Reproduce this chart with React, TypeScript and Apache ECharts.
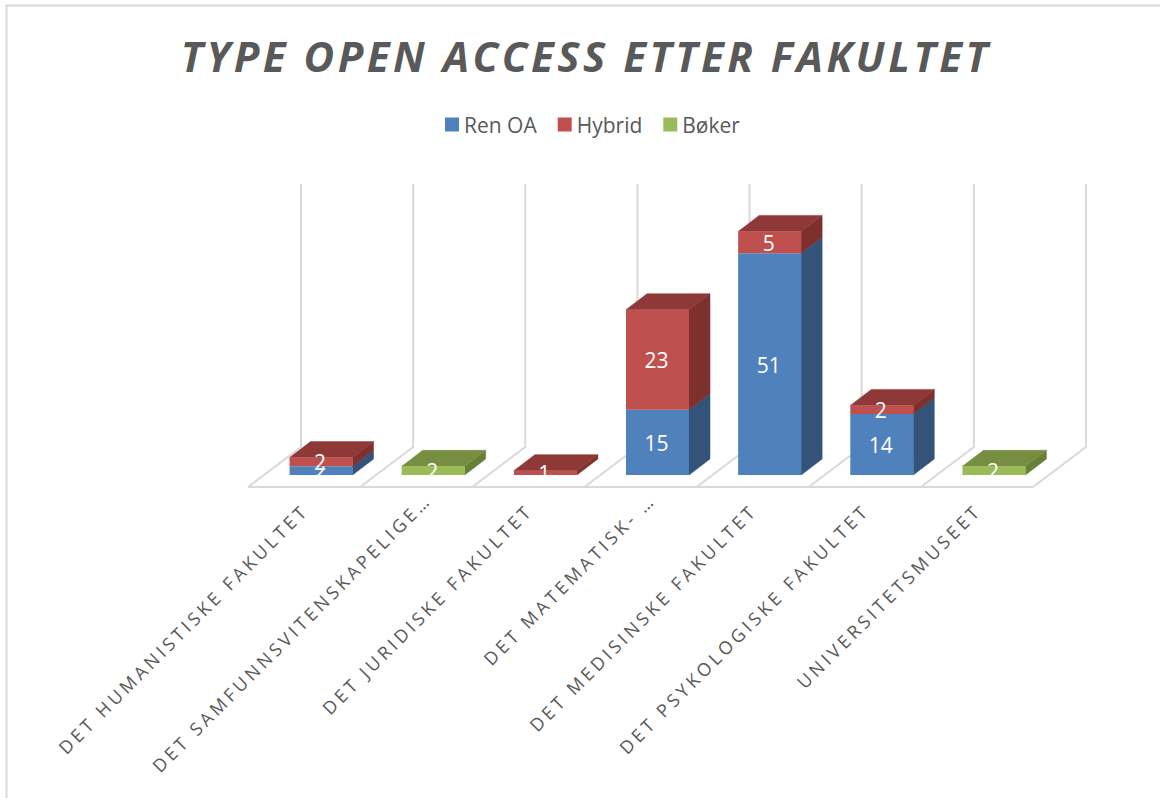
import React, { useEffect, useRef } from "react";
import * as echarts from "echarts";

const categories = [
  "DET HUMANISTISKE FAKULTET",
  "DET SAMFUNNSVITENSKAPELIGE…",
  "DET JURIDISKE FAKULTET",
  "DET MATEMATISK- …",
  "DET MEDISINSKE FAKULTET",
  "DET PSYKOLOGISKE FAKULTET",
  "UNIVERSITETSMUSEET",
];
const renOA = [2, 0, 0, 15, 51, 14, 0];
const hybrid = [2, 0, 1, 23, 5, 2, 0];
const boker = [0, 2, 0, 0, 0, 0, 2];
const titleText = "TYPE OPEN ACCESS ETTER FAKULTET";
const FONT = "'Open Sans', sans-serif";

const stackSeries = [
  { name: "Ren OA", values: renOA, front: "#4F81BD", top: "#3F6797", side: "#335379" },
  { name: "Hybrid", values: hybrid, front: "#C0504D", top: "#8E3937", side: "#7D302E" },
  { name: "Bøker", values: boker, front: "#9BBB59", top: "#758E42", side: "#66803A" },
];

const BAR_W = 63;
const DX = 21;
const DY = 16;

function poly(points: number[][], fill: string) {
  return { type: "polygon", shape: { points }, style: { fill, stroke: fill, lineWidth: 0.5 }, silent: true };
}

function floorRender(params: any, api: any) {
  const i = api.value(0);
  const c = api.coord([i, 0]);
  const band = api.size([1, 0])[0];
  const start = c[0] - band / 2;
  const y0 = c[1];
  const stroke = { stroke: "#D9D9D9", lineWidth: 2, fill: "none" };
  const wallAt = (x: number) => ({
    type: "polyline",
    shape: { points: [[x + 36, y0 - 291], [x + 36, y0 - 28], [x - 17, y0 + 12]] },
    style: stroke,
    silent: true,
  });
  const children: any[] = [wallAt(start)];
  if (i === categories.length - 1) {
    children.push(wallAt(start + band));
  }
  children.push({
    type: "line",
    shape: { x1: start - 17, y1: y0 + 12, x2: start + band - 17, y2: y0 + 12 },
    style: stroke,
    silent: true,
  });
  return { type: "group", children };
}

function barRender(s: (typeof stackSeries)[number]) {
  return (params: any, api: any) => {
    const i = api.value(0);
    const v = api.value(1);
    const base = api.value(2);
    const above = api.value(3);
    if (!v) return undefined;
    const b = api.coord([i, base]);
    const t = api.coord([i, base + v]);
    const l = b[0] - BAR_W / 2;
    const r = b[0] + BAR_W / 2;
    const children: any[] = [
      poly([[r, b[1]], [r + DX, b[1] - DY], [r + DX, t[1] - DY], [r, t[1]]], s.side),
    ];
    if (!above) {
      children.push(poly([[l, t[1]], [l + DX, t[1] - DY], [r + DX, t[1] - DY], [r, t[1]]], s.top));
    }
    children.push({
      type: "rect",
      shape: { x: l, y: t[1], width: BAR_W, height: b[1] - t[1] },
      style: { fill: s.front },
      silent: true,
    });
    const y0 = api.coord([i, 0])[1];
    children.push({
      type: "text",
      silent: true,
      style: {
        x: b[0] - 1,
        y: (b[1] + t[1]) / 2 + 0.5,
        text: String(v),
        fill: "#FFFFFF",
        font: `21px ${FONT}`,
        align: "center",
        verticalAlign: "middle",
      },
      clipPath: { type: "rect", shape: { x: l, y: 0, width: BAR_W, height: y0 } },
    });
    return { type: "group", children };
  };
}

function applySpacing(root: HTMLElement) {
  root.querySelectorAll("text").forEach((el) => {
    const txt = el.textContent || "";
    if (txt === titleText) el.setAttribute("letter-spacing", "3.5");
    else if (categories.includes(txt)) {
      el.setAttribute("letter-spacing", "3.6");
      if (txt.endsWith("…")) el.setAttribute("dx", "15");
    }
  });
}

export default function App() {
  const ref = useRef<HTMLDivElement>(null);
  useEffect(() => {
    document.body.style.margin = "0";
    const chart = echarts.init(ref.current!, undefined, { renderer: "svg" });
    const sums = categories.map(() => 0);
    const barSeries = stackSeries.map((s, si) => {
      const data = s.values.map((v, i) => {
        const base = sums[i];
        sums[i] += v;
        const above = stackSeries.slice(si + 1).reduce((a, o) => a + o.values[i], 0);
        return [i, v, base, above];
      });
      return {
        type: "custom",
        name: s.name,
        xAxisIndex: 0,
        yAxisIndex: 0,
        z: 3 + si,
        itemStyle: { color: s.front },
        renderItem: barRender(s),
        data,
        encode: { x: 0, y: 1 },
      };
    });
    chart.setOption({
      animation: false,
      backgroundColor: "#FFFFFF",
      title: {
        text: titleText,
        left: 581,
        top: 29,
        textAlign: "center",
        textStyle: { fontFamily: FONT, fontSize: 42, fontWeight: "bold", fontStyle: "italic", color: "#595959" },
      },
      legend: {
        data: stackSeries.map((s) => s.name),
        left: 440,
        top: 109,
        icon: "rect",
        itemWidth: 14,
        itemHeight: 14,
        itemGap: 21,
        selectedMode: false,
        textStyle: { fontFamily: FONT, fontSize: 21, color: "#595959" },
      },
      graphic: [
        {
          type: "polyline",
          silent: true,
          shape: { points: [[1170, 5.5], [6.5, 5.5], [6.5, 810]] },
          style: { stroke: "#D9D9D9", lineWidth: 2, fill: "none" },
        },
      ],
      grid: [
        { left: 265, width: 785, top: 214, height: 261 },
        { left: 249, width: 785, top: 214, height: 261 },
      ],
      xAxis: [
        {
          type: "category",
          gridIndex: 0,
          data: categories,
          axisLine: { show: false },
          axisTick: { show: false },
          axisLabel: { show: false },
        },
        {
          type: "category",
          gridIndex: 1,
          data: categories,
          axisLine: { show: false },
          axisTick: { show: false },
          axisLabel: {
            rotate: 45,
            interval: 0,
            margin: 32,
            fontFamily: FONT,
            fontSize: 18,
            color: "#595959",
          },
        },
      ],
      yAxis: [
        { type: "value", gridIndex: 0, min: 0, max: 60, show: false },
        { type: "value", gridIndex: 1, min: 0, max: 60, show: false },
      ],
      series: [
        {
          type: "custom",
          name: "floor",
          xAxisIndex: 0,
          yAxisIndex: 0,
          z: 1,
          renderItem: floorRender,
          data: categories.map((_, i) => [i, 0]),
          encode: { x: 0, y: 1 },
        },
        ...barSeries,
      ],
    });
    const root = ref.current!;
    applySpacing(root);
    chart.on("finished", () => applySpacing(root));
    const raf = requestAnimationFrame(() => applySpacing(root));
    return () => {
      cancelAnimationFrame(raf);
      chart.dispose();
    };
  }, []);
  return <div ref={ref} style={{ width: 1160, height: 798 }} />;
}
